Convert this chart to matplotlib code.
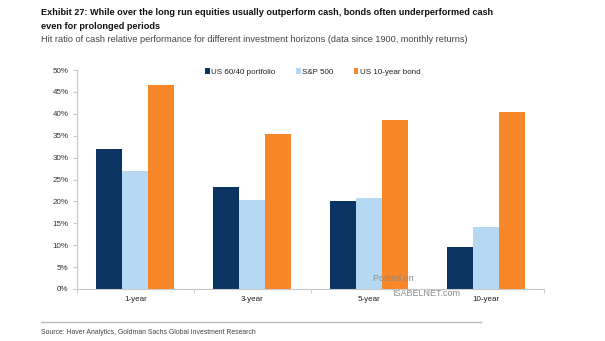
import numpy as np
import matplotlib.pyplot as plt
from matplotlib.ticker import PercentFormatter

# hit ratio of cash vs. each asset, in percent
horizons = ['1-year', '3-year', '5-year', '10-year']
portfolio_6040 = [32.0, 23.2, 20.2, 9.7]
sp500 = [26.9, 20.3, 20.7, 14.1]
bond_10y = [46.5, 35.3, 38.6, 40.5]

series_names = ['US 60/40 portfolio', 'S&P 500', 'US 10-year bond']
colors = ['#0B3463', '#B5D8F3', '#F8872A']

plt.rcParams['font.family'] = ['Liberation Sans', 'DejaVu Sans']
narrow = ['Liberation Sans Narrow', 'Liberation Sans', 'DejaVu Sans']

fig = plt.figure(figsize=(6.05, 3.41), dpi=100)
ax = fig.add_axes([0.1273, 0.1525, 0.7719, 0.6422])

x = np.arange(len(horizons))
width = 0.223
for i, (vals, name, col) in enumerate(zip([portfolio_6040, sp500, bond_10y], series_names, colors)):
    ax.bar(x + (i - 1) * width, vals, width, color=col, label=name, zorder=2)

ax.set_xlim(-0.5, len(horizons) - 0.5)
ax.set_ylim(0, 50)
ax.set_yticks(np.arange(0, 51, 5))
ax.yaxis.set_major_formatter(PercentFormatter(decimals=0))
ax.set_xticks(x)
ax.set_xticklabels(horizons)
ax.set_xticks(np.arange(-0.5, len(horizons)), minor=True)

for side in ['top', 'right']:
    ax.spines[side].set_visible(False)
for side in ['left', 'bottom']:
    ax.spines[side].set_color('#C8C8C8')
    ax.spines[side].set_linewidth(0.8)

ax.tick_params(axis='y', length=3, color='#C8C8C8', labelsize=5.8, labelcolor='#333333', pad=3)
ax.tick_params(axis='x', which='major', length=0, labelsize=5.8, labelcolor='#222222', pad=5)
ax.tick_params(axis='x', which='minor', length=3, color='#C8C8C8')

leg = ax.legend(loc='upper center', bbox_to_anchor=(0.505, 1.04), ncol=3, frameon=False,
                fontsize=5.8, handlelength=0.6, handleheight=0.6, handletextpad=0.2,
                columnspacing=2.5)
for t in leg.get_texts():
    t.set_color('#222222')

renderer = fig.canvas.get_renderer()


def fit_text(x0, y0, s, width_px, size, **kw):
    # shrink the font until the line spans width_px pixels
    t = fig.text(x0, y0, s, fontsize=size, va='center', family=narrow, **kw)
    w = t.get_window_extent(renderer).width
    t.set_fontsize(size * width_px / w)
    return t


# headline and subtitle
title1 = fit_text(0.068, 0.964, 'Exhibit 27: While over the long run equities usually outperform cash, bonds often underperformed cash',
                  450, 7.2, fontweight='bold', color='#111111')
fig.text(0.068, 0.921, 'even for prolonged periods', fontsize=title1.get_fontsize(), va='center',
         family=narrow, fontweight='bold', color='#111111')
fit_text(0.068, 0.883, 'Hit ratio of cash relative performance for different investment horizons (data since 1900, monthly returns)',
         425, 6.2, color='#444444')

# watermark
fig.text(0.617, 0.182, 'Posted on', fontsize=6.5, color='#8A8A8A', va='center')
fig.text(0.648, 0.14, 'ISABELNET.com', fontsize=6.5, color='#8A8A8A', va='center')

# source footer with rule above it
fig.add_artist(plt.Line2D([0.068, 0.795], [0.057, 0.057], transform=fig.transFigure,
                          color='#BBBBBB', linewidth=1.0))
fit_text(0.068, 0.026, 'Source: Haver Analytics, Goldman Sachs Global Investment Research',
         215, 5.3, color='#444444')

fig.savefig('out.png', dpi=100)
